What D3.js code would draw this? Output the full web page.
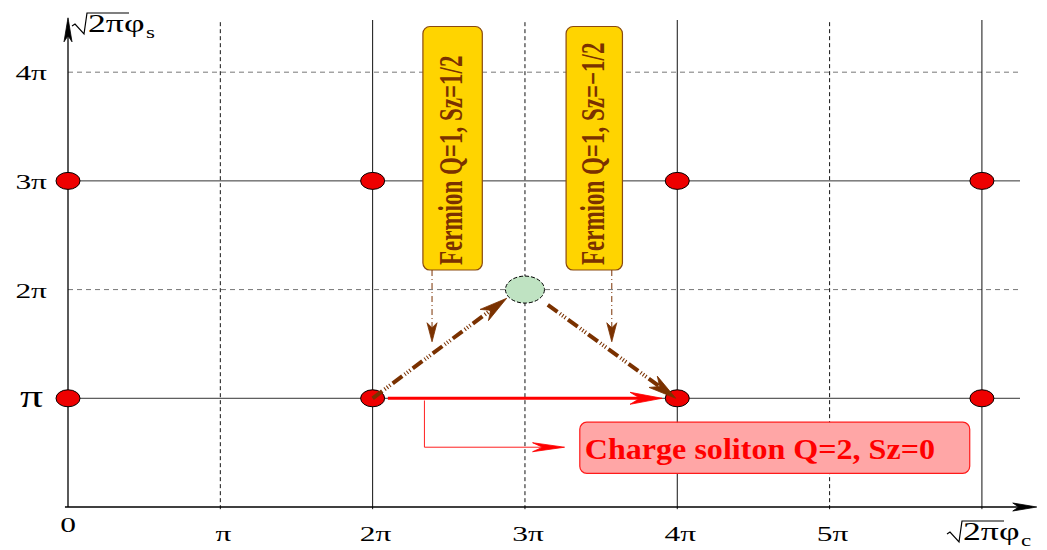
<!DOCTYPE html>
<html>
<head>
<meta charset="utf-8">
<script src="https://cdn.jsdelivr.net/npm/d3@7/dist/d3.min.js"></script>
<style>
  html, body { margin: 0; padding: 0; background: #fff; }
  svg { display: block; }
</style>
</head>
<body>
<svg id="chart" width="1047" height="550"></svg>
<script>
// Lattice in units of π: (√2π φc, √2π φs)
const xTickValues = [0, 1, 2, 3, 4, 5];
const xTickLabels = ["0", "π", "2π", "3π", "4π", "5π"];
const yTickValues = [1, 2, 3, 4];
const yTickLabels = ["π", "2π", "3π", "4π"];
const solidCols = [2, 4, 6];
const dashedCols = [1, 3, 5];
const solidRows = [1, 3];
const dashedRows = [2, 4];
const vacuaX = [0, 2, 4, 6];
const vacuaY = [1, 3];
const saddle = [3, 2];

// Fermion labels: box extent, pointer column and pointer tip
const fermionBoxes = [
  {x0: 2.33, x1: 2.72, y0: 2.18, y1: 4.42, ax: 2.39, tip: 1.52, label: "Fermion Q=1, Sz=1/2"},
  {x0: 3.27, x1: 3.64, y0: 2.18, y1: 4.42, ax: 3.57, tip: 1.52, label: "Fermion Q=1, Sz=\u22121/2"}
];
// Two fermion steps through the saddle, and the direct charge soliton
const fermionPath = [
  {from: [2, 1], to: [2.88, 1.92]},
  {from: [3.15, 1.86], to: [3.99, 1.0]}
];
const solitonPath = {from: [2.1, 1], to: [3.9, 1]};
const solitonBox = {x0: 3.36, x1: 5.92, y0: 0.31, y1: 0.78, label: "Charge soliton Q=2, Sz=0"};
const solitonLeader = {x: 2.34, y0: 0.98, y1: 0.55, x1: 3.26};

const svg = d3.select("#chart");
const x = d3.scaleLinear().domain([0, 6.25]).range([68, 1020]);
const y = d3.scaleLinear().domain([0, 4.48]).range([507, 20]);

const serif = "Liberation Serif, Times New Roman, serif";
const brown = "#7a3100";
const stretch = 1.43; // glyphs in this figure are widened horizontally

// Narrow indented arrowhead pointing from p0 to p1, tip at p1
function arrowHead(g, p0, p1, len, half, notch, color) {
  const dx = p1[0] - p0[0], dy = p1[1] - p0[1];
  const L = Math.hypot(dx, dy), ux = dx / L, uy = dy / L;
  const nx = -uy, ny = ux;
  const bx = p1[0] - ux * len, by = p1[1] - uy * len;
  const pts = [
    [p1[0], p1[1]],
    [bx + nx * half, by + ny * half],
    [p1[0] - ux * (len - notch), p1[1] - uy * (len - notch)],
    [bx - nx * half, by - ny * half]
  ];
  g.append("path").attr("d", d3.line()(pts) + "Z").attr("fill", color).attr("stroke", color).attr("stroke-width", 0.8);
}

// Grid
const grid = svg.append("g");
grid.selectAll(".hs").data(solidRows).join("line")
  .attr("x1", x(0)).attr("x2", x(6.25)).attr("y1", d => y(d)).attr("y2", d => y(d))
  .attr("stroke", "#333").attr("stroke-width", 1);
grid.selectAll(".hd").data(dashedRows).join("line")
  .attr("x1", x(0)).attr("x2", x(6.25)).attr("y1", d => y(d)).attr("y2", d => y(d))
  .attr("stroke", "#777").attr("stroke-width", 1).attr("stroke-dasharray", "5,4");
grid.selectAll(".vs").data(solidCols).join("line")
  .attr("x1", d => x(d)).attr("x2", d => x(d)).attr("y1", y(-0.02)).attr("y2", y(4.48))
  .attr("stroke", "#111").attr("stroke-width", 1);
grid.selectAll(".vd").data(dashedCols).join("line")
  .attr("x1", d => x(d)).attr("x2", d => x(d)).attr("y1", y(-0.02)).attr("y2", y(4.48))
  .attr("stroke", "#111").attr("stroke-width", 1).attr("stroke-dasharray", "4,3");

// Axes
const axes = svg.append("g");
axes.append("line").attr("x1", x(-0.02)).attr("x2", x(6.33)).attr("y1", y(0)).attr("y2", y(0))
  .attr("stroke", "#000").attr("stroke-width", 1.3);
arrowHead(axes, [x(6.1), y(0)], [x(6.36), y(0)], 24, 4, 6, "#000");
axes.append("line").attr("x1", x(0)).attr("x2", x(0)).attr("y1", y(0)).attr("y2", y(4.46))
  .attr("stroke", "#000").attr("stroke-width", 1.3);
arrowHead(axes, [x(0), y(4.2)], [x(0), y(4.5)], 24, 4, 6, "#000");

axes.selectAll(".xl").data(xTickValues).join("text")
  .attr("transform", (d, i) => `translate(${x(d) + (i === 0 ? 0 : 3)},${i === 0 ? 532 : 541}) scale(${stretch},1)`)
  .attr("text-anchor", "middle").attr("font-family", serif).attr("font-size", 22)
  .text((d, i) => xTickLabels[i]);
axes.selectAll(".yl").data(yTickValues).join("text")
  .attr("transform", d => `translate(${d === 1 ? 43 : 47},${y(d) + (d === 1 ? 9 : 8)}) scale(${stretch},1)`)
  .attr("text-anchor", "end").attr("font-family", serif).attr("font-size", d => d === 1 ? 32 : 22)
  .text((d, i) => yTickLabels[i]);

// Axis titles: √(2π) φ_s and √(2π) φ_c
function sqrtTitle(g, x0, base, sub) {
  g.append("path")
    .attr("d", `M${x0},${base - 6} L${x0 + 3},${base - 8} L${x0 + 12},${base + 2} L${x0 + 15},${base - 19} L${x0 + 57},${base - 19}`)
    .attr("fill", "none").attr("stroke", "#000").attr("stroke-width", 1.2);
  const t = g.append("text")
    .attr("transform", `translate(${x0 + 16},${base}) scale(${stretch},1)`)
    .attr("font-family", serif).attr("font-size", 25);
  t.append("tspan").text("2πφ");
  t.append("tspan").attr("dy", 6).attr("dx", 1).attr("font-size", 16).text(sub);
}
sqrtTitle(axes, 72, 32, "s");
sqrtTitle(axes, 947, 540, "c");

// Fermion boxes and their pointers
const fb = svg.append("g");
fermionBoxes.forEach(b => {
  fb.append("rect").attr("x", x(b.x0)).attr("y", y(b.y1))
    .attr("width", x(b.x1) - x(b.x0)).attr("height", y(b.y0) - y(b.y1))
    .attr("rx", 7).attr("fill", "#ffd400").attr("stroke", "#8a4a10").attr("stroke-width", 1.2);
  const cx = (x(b.x0) + x(b.x1)) / 2;
  fb.append("text")
    .attr("transform", `translate(${cx + 9.5},${y(b.y0) - 5}) rotate(-90) scale(1,${stretch})`)
    .attr("font-family", serif).attr("font-weight", "bold").attr("font-size", 23)
    .attr("fill", brown).text(b.label);
  fb.append("line").attr("x1", x(b.ax)).attr("x2", x(b.ax)).attr("y1", y(b.y0)).attr("y2", y(b.tip) - 10)
    .attr("stroke", brown).attr("stroke-width", 1).attr("stroke-dasharray", "6,3,1,3");
  arrowHead(fb, [x(b.ax), y(b.y0)], [x(b.ax), y(b.tip)], 19, 5, 5, brown);
});

// Red soliton path
const sol = svg.append("g");
sol.append("line").attr("x1", x(solitonPath.from[0])).attr("y1", y(solitonPath.from[1]))
  .attr("x2", x(solitonPath.to[0]) - 15).attr("y2", y(solitonPath.to[1]))
  .attr("stroke", "#ff0000").attr("stroke-width", 3);
arrowHead(sol, [x(solitonPath.from[0]), y(solitonPath.from[1])], [x(solitonPath.to[0]), y(solitonPath.to[1])], 32, 6, 10, "#ff0000");
sol.append("path")
  .attr("d", `M${x(solitonLeader.x)},${y(solitonLeader.y0)} V${y(solitonLeader.y1)} H${x(solitonLeader.x1) - 10}`)
  .attr("fill", "none").attr("stroke", "#ff2020").attr("stroke-width", 1);
arrowHead(sol, [x(solitonLeader.x), y(solitonLeader.y1)], [x(solitonLeader.x1), y(solitonLeader.y1)], 32, 4.5, 10, "#ff0000");

// Charge soliton label
sol.append("rect").attr("x", x(solitonBox.x0)).attr("y", y(solitonBox.y1))
  .attr("width", x(solitonBox.x1) - x(solitonBox.x0)).attr("height", y(solitonBox.y0) - y(solitonBox.y1))
  .attr("rx", 7).attr("fill", "#ffa6a6").attr("stroke", "#ff1a1a").attr("stroke-width", 1.2);
sol.append("text")
  .attr("transform", `translate(${x(solitonBox.x0) + 5},${y(solitonBox.y0) - 14}) scale(1.07,1)`)
  .attr("font-family", serif).attr("font-weight", "bold").attr("font-size", 30)
  .attr("fill", "#ff0000").text(solitonBox.label);

// Vacua
svg.append("g").selectAll("ellipse")
  .data(d3.cross(vacuaX, vacuaY)).join("ellipse")
  .attr("cx", d => x(d[0])).attr("cy", d => y(d[1])).attr("rx", 12).attr("ry", 8.5)
  .attr("fill", "#ee0000").attr("stroke", "#000").attr("stroke-width", 1);

// Saddle point
svg.append("ellipse").attr("cx", x(saddle[0])).attr("cy", y(saddle[1])).attr("rx", 19.5).attr("ry", 13.5)
  .attr("fill", "#bfe3c2").attr("stroke", "#000").attr("stroke-width", 1).attr("stroke-dasharray", "4,2");

// Fermion steps (dash + triple-dot brown arrows)
const fp = svg.append("g");
fermionPath.forEach(p => {
  const a = [x(p.from[0]), y(p.from[1])], b = [x(p.to[0]), y(p.to[1])];
  const L = Math.hypot(b[0] - a[0], b[1] - a[1]);
  const e = [b[0] - (b[0] - a[0]) / L * 14, b[1] - (b[1] - a[1]) / L * 14];
  fp.append("line").attr("x1", a[0]).attr("y1", a[1]).attr("x2", e[0]).attr("y2", e[1])
    .attr("stroke", brown).attr("stroke-width", 4).attr("stroke-dasharray", "12,3,1,2,1,2,1,3");
  arrowHead(fp, a, b, 28, 7, 8, brown);
});
</script>
</body>
</html>
